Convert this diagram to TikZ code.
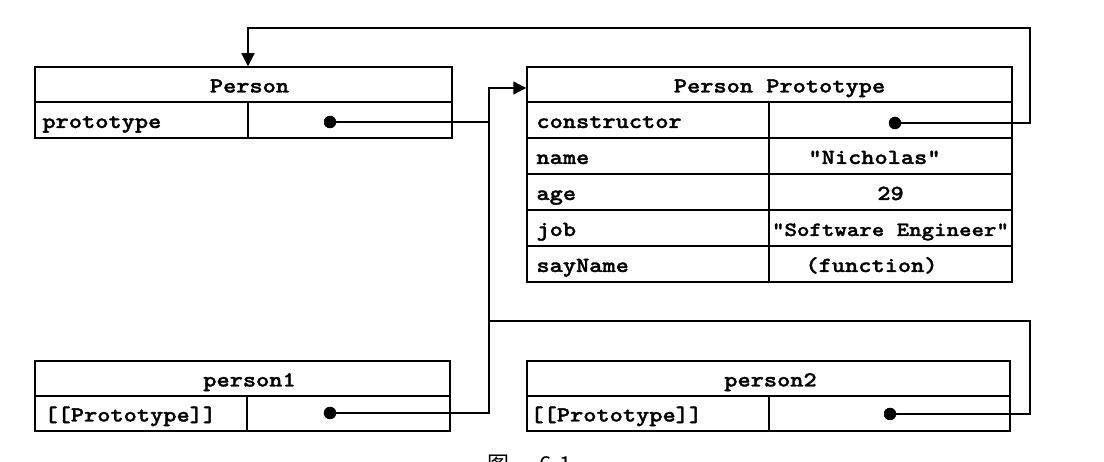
\documentclass[tikz,border=0pt]{standalone}
\usepackage{fontspec}
\newfontfamily\codefont{lmmonolt10-bold.otf}[FakeStretch=1.17,FakeBold=1.4]
\newfontfamily\cjk{Noto Sans CJK SC}
\usetikzlibrary{arrows.meta,calc}
\begin{document}
\begin{tikzpicture}[x=1pt,y=-1pt,
  cell/.style={draw,line width=1.5pt,inner sep=0pt,anchor=center,
    text height=16pt,text depth=0pt,font=\codefont\fontsize{21.5}{22}\selectfont},
  txt/.style={inner sep=0pt,font=\codefont\fontsize{21.5}{22}\selectfont},
  keytxt/.style={txt,anchor=base west},
  valtxt/.style={txt,anchor=base},
  conn/.style={line width=1.3pt},
  dot/.style={circle,fill=black,inner sep=0pt,minimum size=12.5pt},
  tip/.style={-{Triangle[length=13pt,width=13pt]}}
]
\useasboundingbox (0,0) rectangle (1104,462);

% Person
\node[cell,minimum width=417pt,minimum height=35pt] (hP) at (243.5,84.5) {};
\node[valtxt] (thP) at ([xshift=6pt,yshift=-8pt]hP.center) {Person};
\node[cell,minimum width=213pt,minimum height=36pt] (kP) at (141.5,120) {};
\node[cell,minimum width=204pt,minimum height=36pt] (vP) at (350,120) {};
\node[keytxt] (tkP) at ([xshift=8pt,yshift=-8pt]kP.west) {prototype};

% Person Prototype
\node[cell,minimum width=485pt,minimum height=35pt] (hPP) at (769.5,84.5) {};
\node[valtxt] (thPP) at ([xshift=10pt,yshift=-8pt]hPP.center) {Person Prototype};
\node[cell,minimum width=242pt,minimum height=36pt] (k1) at (648,120) {};
\node[cell,minimum width=243pt,minimum height=36pt] (v1) at (890.5,120) {};
\node[cell,minimum width=242pt,minimum height=36pt] (k2) at (648,156) {};
\node[cell,minimum width=243pt,minimum height=36pt] (v2) at (890.5,156) {};
\node[cell,minimum width=242pt,minimum height=36pt] (k3) at (648,192) {};
\node[cell,minimum width=243pt,minimum height=36pt] (v3) at (890.5,192) {};
\node[cell,minimum width=242pt,minimum height=36pt] (k4) at (648,228) {};
\node[cell,minimum width=243pt,minimum height=36pt] (v4) at (890.5,228) {};
\node[cell,minimum width=242pt,minimum height=36pt] (k5) at (648,264) {};
\node[cell,minimum width=243pt,minimum height=36pt] (v5) at (890.5,264) {};
\node[keytxt] (tk1) at ([xshift=10pt,yshift=-8pt]k1.west) {constructor};
\node[keytxt] (tk2) at ([xshift=10pt,yshift=-8pt]k2.west) {name};
\node[keytxt] (tk3) at ([xshift=10pt,yshift=-8pt]k3.west) {age};
\node[keytxt] (tk4) at ([xshift=10pt,yshift=-8pt]k4.west) {job};
\node[keytxt] (tk5) at ([xshift=10pt,yshift=-8pt]k5.west) {sayName};
\node[valtxt] (tv2) at ([xshift=-16pt,yshift=-8pt]v2.center) {"Nicholas"};
\node[valtxt] (tv3) at ([yshift=-8pt]v3.center) {29};
\node[valtxt,font=\codefont\fontsize{20.3}{22}\selectfont] (tv4) at ([yshift=-8pt]v4.center) {"Software Engineer"};
\node[valtxt] (tv5) at ([xshift=-19pt,yshift=-8pt]v5.center) {(function)};

% person1
\node[cell,minimum width=415pt,minimum height=35pt] (h1) at (242.5,378.5) {};
\node[valtxt] (th1) at ([xshift=7pt,yshift=-8pt]h1.center) {person1};
\node[cell,minimum width=212pt,minimum height=35pt] (kp1) at (141,413.5) {};
\node[cell,minimum width=203pt,minimum height=35pt] (vp1) at (348.5,413.5) {};
\node[keytxt] (tkp1) at ([xshift=10pt,yshift=-8pt]kp1.west) {[[Prototype]]};

% person2
\node[cell,minimum width=483pt,minimum height=35pt] (h2) at (768.5,378.5) {};
\node[valtxt] (th2) at ([xshift=2pt,yshift=-8pt]h2.center) {person2};
\node[cell,minimum width=242pt,minimum height=35pt] (kp2) at (648,413.5) {};
\node[cell,minimum width=241pt,minimum height=35pt] (vp2) at (889.5,413.5) {};
\node[keytxt] (tkp2) at ([xshift=4pt,yshift=-8pt]kp2.west) {[[Prototype]]};

% dots
\node[dot] (dP) at (330,122) {};
\node[dot] (dC) at (895,123) {};
\node[dot] (d1) at (330,413) {};
\node[dot] (d2) at (890,414) {};

% junction coordinates
\coordinate (jA) at (489,88);
\coordinate (jB) at (489,321);
\coordinate (rB) at (1030,321);
\coordinate (rT) at (1030,28);

% connectors
\draw[conn,tip] (dP.center) -| (jA) -- (jA -| hPP.west);
\draw[conn] (d1.center) -| (jA);
\draw[conn] (d2.center) -| (rB) -- (jB);
\draw[conn,tip] (dC.center) -| (rT) -| ([xshift=4.5pt]hP.north);

% caption (cut off at the bottom edge, as in the reference)
\node[anchor=north west,inner sep=0pt,font=\cjk\fontsize{22}{22}\selectfont] (cap) at (487,455) {图\hspace{30pt}6-1};
\end{tikzpicture}
\end{document}
